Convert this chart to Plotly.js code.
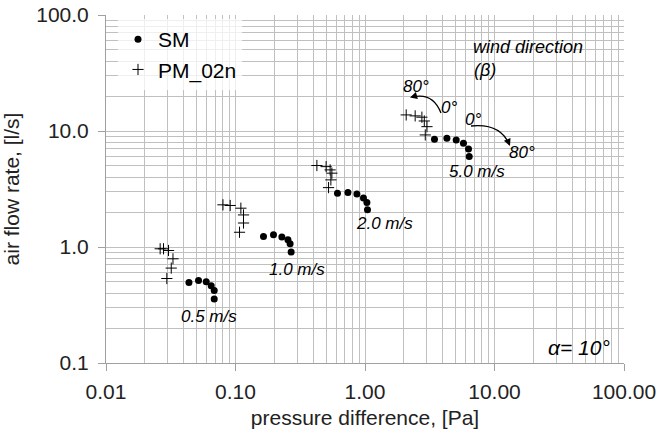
<!DOCTYPE html>
<html>
<head>
<meta charset="utf-8">
<script src="https://cdn.plot.ly/plotly-3.0.1.min.js"></script>
<style>html,body{margin:0;padding:0;background:#fff;}#chart{width:658px;height:434px;}</style>
</head>
<body>
<div id="chart"></div>
<script>
// SM series (dots), wind speeds 0.5, 1.0, 2.0, 5.0 m/s, beta 0..80 deg
const sm05X = [0.0437, 0.0518, 0.0594, 0.0649, 0.0685, 0.0685];
const sm05Y = [0.494, 0.515, 0.501, 0.463, 0.422, 0.356];
const sm10X = [0.1645, 0.1965, 0.228, 0.254, 0.264, 0.269];
const sm10Y = [1.231, 1.274, 1.217, 1.153, 1.066, 0.904];
const sm20X = [0.613, 0.738, 0.866, 0.973, 1.034, 1.045];
const sm20Y = [2.91, 2.95, 2.87, 2.64, 2.42, 2.09];
const sm50X = [3.44, 4.29, 5.06, 5.76, 6.30, 6.38];
const sm50Y = [8.50, 8.67, 8.38, 7.85, 7.01, 6.02];
// PM_02n series (plus)
const pm05X = [0.0262, 0.0278, 0.0304, 0.0329, 0.0319, 0.0295];
const pm05Y = [0.965, 0.965, 0.933, 0.791, 0.658, 0.535];
const pm10X = [0.0800, 0.0910, 0.110, 0.1153, 0.1153, 0.1074];
const pm10Y = [2.31, 2.28, 2.16, 1.89, 1.61, 1.34];
const pm20X = [0.425, 0.501, 0.538, 0.555, 0.545, 0.523];
const pm20Y = [5.04, 4.93, 4.62, 4.33, 3.79, 3.25];
const pm50X = [2.08, 2.44, 2.75, 2.87, 3.01, 2.92];
const pm50Y = [13.76, 13.5, 13.15, 12.2, 10.9, 9.25];

const xTickVals = [0.01, 0.1, 1, 10, 100];
const xTickText = ['0.01', '0.10', '1.00', '10.00', '100.00'];
const yTickVals = [0.1, 1, 10, 100];
const yTickText = ['0.1', '1.0', '10.0', '100.0'];

const FONT = 'Liberation Sans, Arial, sans-serif';

// plot area in pixels, for paper-coordinate helpers
const L = 106, R = 624, T = 15, B = 363;
const px = v => (v - L) / (R - L);
const py = v => 1 - (v - T) / (B - T);

const traces = [
  {
    x: [].concat(sm05X, sm10X, sm20X, sm50X),
    y: [].concat(sm05Y, sm10Y, sm20Y, sm50Y),
    mode: 'markers', type: 'scatter', name: 'SM',
    marker: {symbol: 'circle', size: 7, color: '#000'}
  },
  {
    x: [].concat(pm05X, pm10X, pm20X, pm50X),
    y: [].concat(pm05Y, pm10Y, pm20Y, pm50Y),
    mode: 'markers', type: 'scatter', name: 'PM_02n',
    marker: {symbol: 'cross-thin', size: 8, color: '#000', line: {width: 1, color: '#000'}}
  }
];

function lbl(text, x, y, size, italic) {
  return {xref: 'paper', yref: 'paper', x: px(x), y: py(y), text: text, showarrow: false,
    xanchor: 'center', yanchor: 'middle',
    font: {family: FONT, size: size, color: '#000', style: italic ? 'italic' : 'normal'}};
}
function head(x, y, ax, ay) {
  return {xref: 'paper', yref: 'paper', x: px(x), y: py(y), ax: ax, ay: ay, text: '',
    showarrow: true, arrowhead: 2, arrowsize: 1.1, arrowwidth: 1.3, arrowcolor: '#000', standoff: 0, startstandoff: 0};
}

const layout = {
  width: 658, height: 434,
  margin: {l: L, r: 658 - R, t: T, b: 434 - B},
  paper_bgcolor: '#fff', plot_bgcolor: '#fff',
  showlegend: true,
  legend: {x: px(118), y: py(19), xanchor: 'left', yanchor: 'top',
    bgcolor: 'rgba(255,255,255,0.75)', borderwidth: 0,
    font: {family: FONT, size: 21, color: '#000'}, itemwidth: 30, tracegroupgap: 0},
  xaxis: {
    type: 'log', range: [-2, 2],
    tickvals: xTickVals, ticktext: xTickText,
    tickfont: {family: FONT, size: 21, color: '#222'},
    ticks: 'outside', ticklen: 7, tickcolor: '#a0a0a0', ticklabelstandoff: 3,
    showline: true, linecolor: '#a0a0a0', linewidth: 1,
    showgrid: true, gridcolor: '#c0c0c0', gridwidth: 1,
    minor: {dtick: 'D1', showgrid: true, gridcolor: '#c0c0c0', gridwidth: 1, ticks: ''},
    zeroline: false,
    title: {text: 'pressure difference, [Pa]', font: {family: FONT, size: 21, color: '#222'}, standoff: 8}
  },
  yaxis: {
    type: 'log', range: [-1, 2],
    tickvals: yTickVals, ticktext: yTickText,
    tickfont: {family: FONT, size: 21, color: '#222'},
    ticks: 'outside', ticklen: 7, tickcolor: '#a0a0a0', ticklabelstandoff: 5,
    showline: true, linecolor: '#a0a0a0', linewidth: 1,
    showgrid: true, gridcolor: '#c0c0c0', gridwidth: 1,
    minor: {dtick: 'D1', showgrid: true, gridcolor: '#c0c0c0', gridwidth: 1, ticks: ''},
    zeroline: false,
    title: {text: 'air flow rate, [l/s]', font: {family: FONT, size: 21, color: '#222'}, standoff: 10}
  },
  shapes: [
    {type: 'path', xref: 'paper', yref: 'paper',
     path: 'M ' + px(441) + ',' + py(113) + ' Q ' + px(433) + ',' + py(92) + ' ' + px(412) + ',' + py(97),
     line: {color: '#000', width: 1.3}},
    {type: 'path', xref: 'paper', yref: 'paper',
     path: 'M ' + px(471) + ',' + py(126) + ' Q ' + px(500) + ',' + py(123) + ' ' + px(509) + ',' + py(144),
     line: {color: '#000', width: 1.3}}
  ],
  annotations: [
    lbl('wind direction', 528, 47, 18, true),
    {xref: 'paper', yref: 'paper', x: px(472), y: py(70), text: '(β)', showarrow: false,
      xanchor: 'left', yanchor: 'middle', font: {family: FONT, size: 18, color: '#000', style: 'italic'}},
    lbl('80°', 416, 87, 17, true),
    lbl('0°', 449, 108, 17, true),
    lbl('0°', 473, 119, 17, true),
    lbl('80°', 522, 152, 17, true),
    lbl('5.0 m/s', 477, 172, 17, true),
    lbl('2.0 m/s', 384, 223, 17, true),
    lbl('1.0 m/s', 297, 269, 17, true),
    lbl('0.5 m/s', 209, 316, 17, true),
    lbl('α= 10°', 579, 347, 21, true),
    head(410, 97.5, 7, -2),
    head(510, 146, -3, -7)
  ]
};

Plotly.newPlot('chart', traces, layout, {displayModeBar: false, staticPlot: true});
</script>
</body>
</html>
